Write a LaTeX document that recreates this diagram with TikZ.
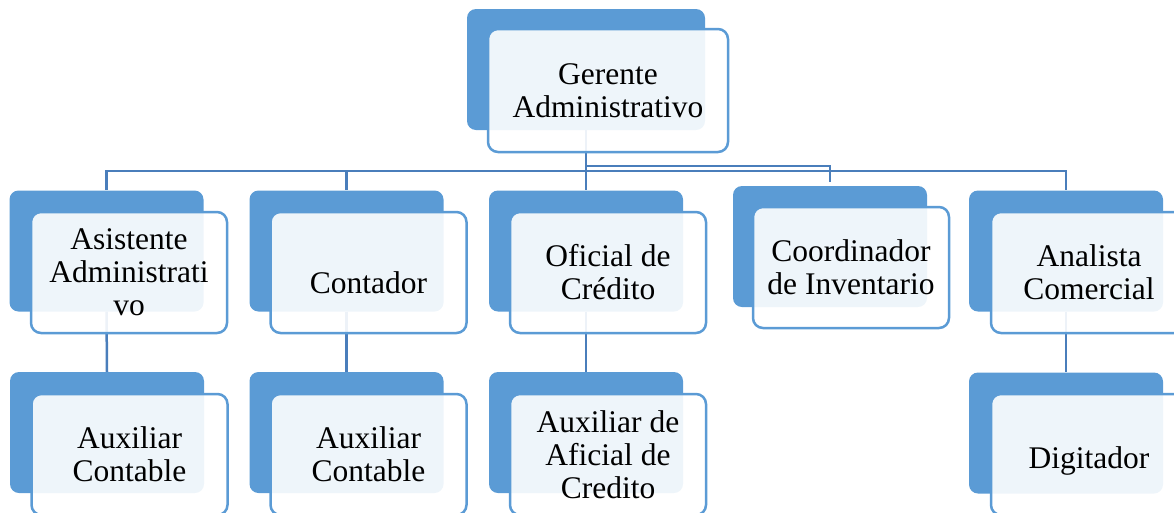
\documentclass[tikz,border=0pt]{standalone}
\usepackage{fontspec}
\setmainfont{Liberation Serif}
\definecolor{cajaazul}{HTML}{5B9BD5}
\definecolor{borde}{HTML}{5B9BD5}
\definecolor{linea}{HTML}{4A7EBB}
\tikzset{
  fondo/.style={draw=none, fill=cajaazul, rounded corners=9pt,
    minimum width=194pt, minimum height=121pt, inner sep=0pt},
  cargo/.style={draw=borde, line width=2.5pt, fill=white, fill opacity=0.9,
    text opacity=1, rounded corners=10pt, minimum width=196pt,
    minimum height=121pt, inner sep=0pt, align=center,
    font=\fontsize{31.5}{33}\selectfont},
  enlace/.style={draw=linea, line width=2.5pt},
}
\begin{document}
\begin{tikzpicture}[x=1pt,y=-1pt]
      \useasboundingbox (0,0) rectangle (1174,512);
      \clip (0,0) rectangle (1174,512);
      % cajas de fondo
      \node[fondo, minimum width=238pt] (ger) at (586,69.5) {};
      \node[fondo] (asis) at (106.5,251) {};
      \node[fondo] (cont) at (346.5,251) {};
      \node[fondo] (ofi) at (586,251) {};
      \node[fondo] (coord) at (830,246.5) {};
      \node[fondo] (anal) at (1066,251) {};
      \node[fondo] (aux1) at (107,432.5) {};
      \node[fondo] (aux2) at (346.5,432.5) {};
      \node[fondo] (aux3) at (586,432.5) {};
      \node[fondo] (dig) at (1066,433) {};
      % lineas
      \coordinate (bus) at (586,171);
      \coordinate (bus2) at (586,166);
      \begin{scope}[enlace]
        \draw (ger.south) -- (bus) -| (asis.north);
        \draw (ger.south) -- (bus) -| (cont.north);
        \draw (ger.south) -- (ofi.north);
        \draw (ger.south) -- (bus2) -| ([yshift=4pt]coord.north);
        \draw (ger.south) -- (bus) -| (anal.north);
        \draw (asis.south) -- (aux1.north);
        \draw (cont.south) -- (aux2.north);
        \draw (ofi.south) -- (aux3.north);
        \draw (anal.south) -- (dig.north);
      \end{scope}
      % cajas de texto
      \node[cargo, minimum width=240pt, minimum height=123pt] (ger-t) at (608,90.5) {Gerente\\Administrativo};
      \node[cargo] (asis-t) at (129,272.5) {Asistente\\Administrati\\vo};
      \node[cargo, text height=42pt, text depth=0pt] (cont-t) at (368.5,272.5) {Contador};
      \node[cargo] (ofi-t) at (608,272.5) {Oficial de\\Crédito};
      \node[cargo] (coord-t) at (851,267.5) {Coordinador\\de Inventario};
      \node[cargo] (anal-t) at (1089,272.5) {Analista\\Comercial};
      \node[cargo] (aux1-t) at (129.5,454.5) {Auxiliar\\Contable};
      \node[cargo] (aux2-t) at (368.5,454.5) {Auxiliar\\Contable};
      \node[cargo] (aux3-t) at (608,454.5) {Auxiliar de\\Aficial de\\Credito};
      \node[cargo, text height=28pt, text depth=0pt] (dig-t) at (1089,454.5) {Digitador};
    \end{tikzpicture}
\end{document}
